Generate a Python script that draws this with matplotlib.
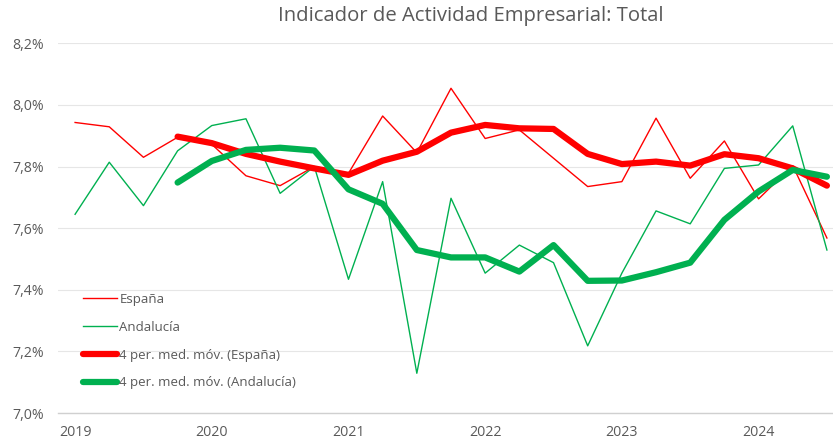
import numpy as np
import matplotlib.pyplot as plt
from matplotlib.ticker import FuncFormatter

# quarterly, 2019Q1 .. 2024Q3
years = ["2019", "2020", "2021", "2022", "2023", "2024"]
espana = [7.943, 7.929, 7.830, 7.895, 7.872, 7.770, 7.738, 7.800, 7.778, 7.964, 7.845, 8.054,
          7.891, 7.919, 7.827, 7.735, 7.751, 7.957, 7.762, 7.883, 7.695, 7.803, 7.568]
andalucia = [7.645, 7.814, 7.673, 7.851, 7.933, 7.955, 7.713, 7.800, 7.434, 7.751, 7.129, 7.697,
             7.454, 7.545, 7.488, 7.218, 7.454, 7.656, 7.614, 7.794, 7.805, 7.932, 7.529]
# 4-period moving averages as drawn (start at the 4th quarter)
ma_espana = [7.897, 7.876, 7.841, 7.816, 7.794, 7.773, 7.819, 7.848, 7.910, 7.935, 7.924,
             7.922, 7.841, 7.808, 7.816, 7.803, 7.840, 7.827, 7.794, 7.738]
ma_andalucia = [7.748, 7.818, 7.854, 7.861, 7.852, 7.726, 7.679, 7.529, 7.505, 7.505, 7.459,
                7.545, 7.429, 7.430, 7.457, 7.488, 7.627, 7.719, 7.789, 7.767]

RED = "#FF0000"
GREEN = "#00B050"
GREY = "#595959"

plt.rcParams['font.family'] = ['Open Sans', 'DejaVu Sans']

fig = plt.figure(figsize=(8.33, 4.41), dpi=100)
ax = fig.add_axes([58 / 833, 28 / 441, 786 / 833, 369.7 / 441])

x = np.arange(len(espana))
xm = x[3:]
ax.plot(x, espana, color=RED, lw=1.0, label="España")
ax.plot(x, andalucia, color=GREEN, lw=1.0, label="Andalucía")
ax.plot(xm, ma_espana, color=RED, lw=4.5, solid_capstyle='round', label="4 per. med. móv. (España)")
ax.plot(xm, ma_andalucia, color=GREEN, lw=4.5, solid_capstyle='round', label="4 per. med. móv. (Andalucía)")

ax.set_xlim(-0.5, len(espana) - 0.5)
ax.set_ylim(7.0, 8.2)
ax.set_yticks(np.arange(7.0, 8.21, 0.2))
ax.yaxis.set_major_formatter(FuncFormatter(lambda v, p: f"{v:.1f}%".replace(".", ",")))
ax.set_xticks(np.arange(0, len(espana), 4))
ax.set_xticklabels(years)

ax.grid(axis='y', color="#E6E6E6", lw=0.8)
ax.set_axisbelow(True)
for s in ["top", "right", "left"]:
    ax.spines[s].set_visible(False)
ax.spines["bottom"].set_color("#D0D0D0")
ax.spines["bottom"].set_linewidth(1.0)
ax.tick_params(axis='both', length=0, colors=GREY, labelsize=10.2)
ax.tick_params(axis='x', pad=9)
ax.tick_params(axis='y', pad=10)

fig.text(471 / 833, 1 - 16 / 441, "Indicador de Actividad Empresarial: Total",
         ha='center', va='center', fontsize=14.6, color=GREY)

leg = ax.legend(loc='upper left', bbox_to_anchor=(83 / 833, 1 - 293 / 441),
                bbox_transform=fig.transFigure, frameon=False, fontsize=9.5,
                handlelength=2.6, handletextpad=0.15, labelspacing=1.12, borderpad=0,
                borderaxespad=0)
for t in leg.get_texts():
    t.set_color(GREY)

fig.savefig("out.png", dpi=100)
